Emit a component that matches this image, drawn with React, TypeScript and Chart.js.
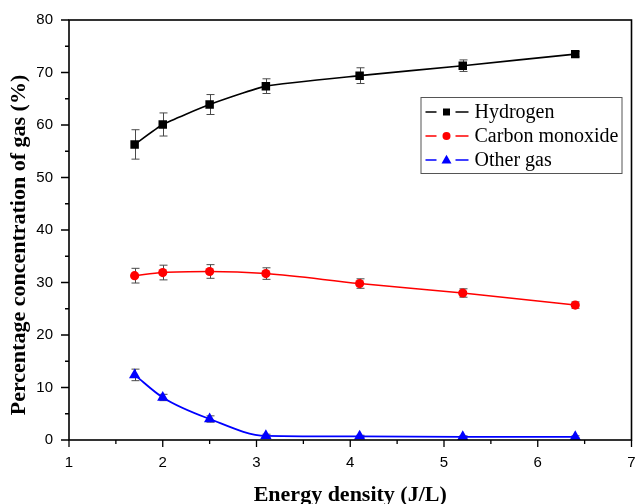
import React, { useEffect, useRef } from 'react';
import { Chart, registerables } from 'chart.js';

Chart.register(...registerables);

const energyDensity = [1.7, 2.0, 2.5, 3.1, 4.1, 5.2, 6.4];
const hydrogen = [56.3, 60.1, 63.9, 67.4, 69.4, 71.3, 73.5];
const hydrogenErr = [2.8, 2.2, 1.9, 1.4, 1.5, 1.1, 0.5];
const carbonMonoxide = [31.3, 31.9, 32.1, 31.7, 29.8, 28.0, 25.7];
const carbonMonoxideErr = [1.4, 1.4, 1.3, 1.1, 0.9, 0.8, 0.6];
const otherGas = [12.4, 8.1, 4.0, 0.8, 0.7, 0.6, 0.6];
const otherGasErr = [1.1, 0.6, 0.6, 0.3, 0.2, 0.2, 0.2];

const seriesNames = ['Hydrogen', 'Carbon monoxide', 'Other gas'];
const seriesColors = ['#000000', '#ff0000', '#0000ff'];
const xTitle = 'Energy density (J/L)';
const yTitle = 'Percentage concentration of gas (%)';

const SERIF = '"Liberation Serif", "Times New Roman", serif';
const SANS = '"Liberation Sans", Arial, sans-serif';

function drawMarker(ctx: CanvasRenderingContext2D, kind: string, x: number, y: number, s: number, color: string) {
  ctx.save();
  ctx.fillStyle = color;
  ctx.beginPath();
  if (kind === 'rect') {
    ctx.rect(x - s / 2, y - s / 2, s, s);
  } else if (kind === 'circle') {
    ctx.arc(x, y, s / 2, 0, Math.PI * 2);
  } else {
    const h = s * 0.87;
    ctx.moveTo(x, y - h * 0.6);
    ctx.lineTo(x + s / 2, y + h * 0.4);
    ctx.lineTo(x - s / 2, y + h * 0.4);
    ctx.closePath();
  }
  ctx.fill();
  ctx.restore();
}

const decorPlugin = {
  id: 'decor',
  beforeDatasetsDraw(chart: any) {
    const { ctx, scales } = chart;
    const xs = scales.x, ys = scales.y;
    const sets = [
      [hydrogen, hydrogenErr],
      [carbonMonoxide, carbonMonoxideErr],
      [otherGas, otherGasErr],
    ];
    ctx.save();
    ctx.strokeStyle = '#4a4a4a';
    ctx.lineWidth = 1;
    sets.forEach(([vals, errs]) => {
      energyDensity.forEach((xv, i) => {
        const px = Math.round(xs.getPixelForValue(xv)) + 0.5;
        const top = ys.getPixelForValue(vals[i] + errs[i]);
        const bot = ys.getPixelForValue(vals[i] - errs[i]);
        ctx.beginPath();
        ctx.moveTo(px, top);
        ctx.lineTo(px, bot);
        ctx.moveTo(px - 4, top);
        ctx.lineTo(px + 4, top);
        ctx.moveTo(px - 4, bot);
        ctx.lineTo(px + 4, bot);
        ctx.stroke();
      });
    });
    ctx.restore();
  },
  afterDraw(chart: any) {
    const { ctx, chartArea, scales } = chart;
    const { left, right, top, bottom } = chartArea;
    ctx.save();
    // frame
    ctx.strokeStyle = '#000';
    ctx.lineWidth = 1.6;
    ctx.strokeRect(left, top, right - left, bottom - top);
    // ticks
    ctx.lineWidth = 1.3;
    ctx.beginPath();
    const xs = scales.x, ys = scales.y;
    for (let v = 1; v <= 7.001; v += 0.5) {
      const px = xs.getPixelForValue(v);
      const major = Math.abs(v - Math.round(v)) < 1e-6;
      ctx.moveTo(px, bottom);
      ctx.lineTo(px, bottom + (major ? 7 : 4));
    }
    for (let v = 0; v <= 80.001; v += 5) {
      const py = ys.getPixelForValue(v);
      const major = v % 10 === 0;
      ctx.moveTo(left, py);
      ctx.lineTo(left - (major ? 8 : 4), py);
    }
    ctx.stroke();

    // axis titles
    ctx.fillStyle = '#000';
    ctx.font = `bold 22px ${SERIF}`;
    ctx.textAlign = 'center';
    ctx.textBaseline = 'alphabetic';
    ctx.fillText(xTitle, (left + right) / 2, chart.height - 3);
    ctx.save();
    ctx.translate(25, (top + bottom) / 2 + 15);
    ctx.rotate(-Math.PI / 2);
    ctx.fillText(yTitle, 0, 0);
    ctx.restore();

    // legend
    const bx = right - 211, by = top + 77, bw = 201, bh = 76;
    ctx.fillStyle = '#fff';
    ctx.fillRect(bx, by, bw, bh);
    ctx.strokeStyle = '#555';
    ctx.lineWidth = 1;
    ctx.strokeRect(bx + 0.5, by + 0.5, bw, bh);
    const kinds = ['rect', 'circle', 'triangle'];
    const sizes = [7, 8, 10];
    ctx.font = `20px ${SERIF}`;
    ctx.textAlign = 'left';
    ctx.textBaseline = 'middle';
    seriesNames.forEach((name, i) => {
      const cy = by + 15 + i * 24;
      ctx.strokeStyle = seriesColors[i];
      ctx.lineWidth = 1.5;
      ctx.beginPath();
      ctx.moveTo(bx + 5, cy);
      ctx.lineTo(bx + 16, cy);
      ctx.moveTo(bx + 35, cy);
      ctx.lineTo(bx + 48, cy);
      ctx.stroke();
      drawMarker(ctx, kinds[i], bx + 26, cy, sizes[i], seriesColors[i]);
      ctx.fillStyle = '#000';
      ctx.fillText(name, bx + 54, cy + 1);
    });
    ctx.restore();
  },
};

export default function App() {
  const ref = useRef<HTMLCanvasElement | null>(null);
  useEffect(() => {
    document.body.style.margin = '0';
    const mk = (vals: number[]) => energyDensity.map((x, i) => ({ x, y: vals[i] }));
    const chart = new Chart(ref.current as HTMLCanvasElement, {
      type: 'line',
      data: {
        datasets: [
          {
            label: seriesNames[0],
            data: mk(hydrogen),
            borderColor: seriesColors[0],
            backgroundColor: seriesColors[0],
            pointStyle: 'rect',
            pointRadius: 6,
            pointBorderWidth: 0,
            borderWidth: 1.6,
            tension: 0.15,
          },
          {
            label: seriesNames[1],
            data: mk(carbonMonoxide),
            borderColor: seriesColors[1],
            backgroundColor: seriesColors[1],
            pointStyle: 'circle',
            pointRadius: 4.6,
            pointBorderWidth: 0,
            borderWidth: 1.6,
            cubicInterpolationMode: 'monotone',
          },
          {
            label: seriesNames[2],
            data: mk(otherGas),
            borderColor: seriesColors[2],
            backgroundColor: seriesColors[2],
            pointStyle: 'triangle',
            pointRadius: 6.5,
            pointBorderWidth: 0,
            borderWidth: 1.8,
            cubicInterpolationMode: 'monotone',
          },
        ],
      },
      options: {
        animation: false,
        responsive: false,
        layout: { padding: { top: 20, right: 5, left: 0, bottom: 0 } },
        plugins: { legend: { display: false }, tooltip: { enabled: false } },
        scales: {
          x: {
            type: 'linear',
            min: 1,
            max: 7,
            grid: { display: false, drawTicks: false },
            border: { display: false },
            ticks: { stepSize: 1, padding: 14, color: '#000', font: { family: SANS, size: 15 } },
            afterFit: (s: any) => { s.height = 64; s.paddingLeft = 0; s.paddingRight = 0; },
          },
          y: {
            type: 'linear',
            min: 0,
            max: 80,
            grid: { display: false, drawTicks: false },
            border: { display: false },
            ticks: { stepSize: 10, padding: 16, color: '#000', font: { family: SANS, size: 15 } },
            afterFit: (s: any) => { s.width = 69; s.paddingTop = 0; s.paddingBottom = 0; },
          },
        },
      } as any,
      plugins: [decorPlugin],
    });
    return () => chart.destroy();
  }, []);
  return (
    <div style={{ position: 'absolute', left: 0, top: 0, width: 638, height: 504, background: '#fff' }}>
      <canvas ref={ref} width={638} height={504} />
    </div>
  );
}
